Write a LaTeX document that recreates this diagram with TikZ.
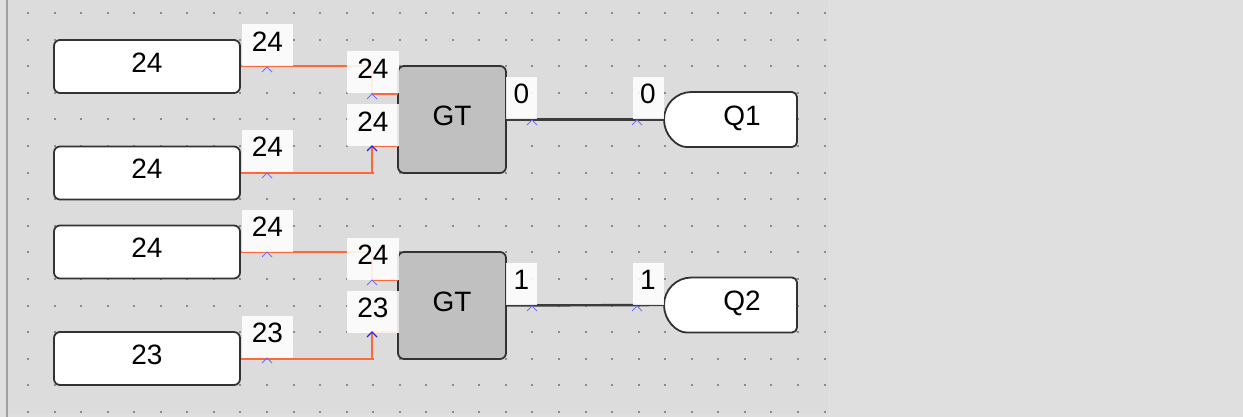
\documentclass[tikz,border=0pt]{standalone}
\usepackage{fontspec}
\setmainfont{Liberation Sans}
\usetikzlibrary{calc}
\definecolor{bgc}{RGB}{220,220,220}
\definecolor{bgr}{RGB}{223,223,223}
\definecolor{dotc}{RGB}{140,140,140}
\definecolor{wireo}{RGB}{255,105,55}
\definecolor{wired}{RGB}{60,60,60}
\definecolor{edgec}{RGB}{50,50,50}
\definecolor{gtfill}{RGB}{192,192,192}
\definecolor{caretc}{RGB}{110,110,255}
\definecolor{caretd}{RGB}{40,40,230}
\definecolor{borderc}{RGB}{160,160,160}
\tikzset{
 txt/.style={font=\fontsize{28}{30}\selectfont, text=black, text depth=8pt, inner sep=0pt},
 valbox/.style={txt, draw=edgec, line width=1.8pt, fill=white, rounded corners=6pt, minimum width=186pt, minimum height=53pt},
 wlabel/.style={txt, fill=white, fill opacity=0.88, text opacity=1, minimum height=42pt},
 gtbox/.style={txt, draw=edgec, line width=1.8pt, fill=gtfill, rounded corners=6pt, minimum width=108pt, minimum height=107pt},
 qframe/.style={minimum width=133pt, minimum height=55pt, inner sep=0pt, outer sep=0pt},
 qline/.style={draw=edgec, line width=1.8pt, fill=white},
 owire/.style={draw=wireo, line width=2pt},
 dwire/.style={draw=wired, line width=2.4pt},
 pincaret/.pic={\draw[draw=caretc, line width=1pt] (-5,5) -- (0,0) -- (5,5);},
 pincaretd/.pic={\draw[draw=caretd, line width=1.2pt] (-5,5) -- (0,0) -- (5,5);},
}
\begin{document}
\begin{tikzpicture}[x=1pt,y=-1pt]
\useasboundingbox (0,0) rectangle (1243,417);
\fill[bgr] (0,0) rectangle (1243,417);
\fill[bgc] (8,0) rectangle (828,414);
\draw[borderc, line width=2pt] (7,0) -- (7,417);
\foreach \i in {0,...,30} \foreach \j in {0,...,15}
  \fill[dotc] ({28+26.55*\i-1},{13+26.6*\j-1}) rectangle +(2,2);

% blocks
\node[valbox] (in1) at (147,66.5) {24};
\node[valbox] (in2) at (147,173) {24};
\node[valbox] (in3) at (147,252) {24};
\node[valbox] (in4) at (147,358.5) {23};
\node[gtbox] (gt1) at (452,119.5) {GT};
\node[gtbox] (gt2) at (452,305.5) {GT};
\node[qframe] (q1) at (730.5,119.5) {};
\node[qframe] (q2) at (730.5,305) {};
\draw[qline] ([xshift=27.5pt]q1.south west) arc[start angle=270, end angle=90, radius=27.5pt]
  [rounded corners=5pt] -- (q1.north east) -- (q1.south east) -- cycle;
\draw[qline] ([xshift=27.5pt]q2.south west) arc[start angle=270, end angle=90, radius=27.5pt]
  [rounded corners=5pt] -- (q2.north east) -- (q2.south east) -- cycle;
\node[txt] (q1t) at (742,119.5) {Q1};
\node[txt] (q2t) at (742,305) {Q2};

% pin coordinates
\coordinate (g1a) at (398,94);
\coordinate (g1b) at (398,146);
\coordinate (g2a) at (398,280);
\coordinate (g2b) at (398,332);
\coordinate (k1a) at (372,94);
\coordinate (k1b) at (372,146);
\coordinate (k2a) at (372,280);
\coordinate (k2b) at (372,332);

% wires
\draw[owire] (in1.east) -| (k1a) -- (g1a);
\draw[owire] (in2.east) -| (k1b) -- (g1b);
\draw[owire] (in3.east) -| (k2a) -- (g2a);
\draw[owire] (in4.east) -| (k2b) -- (g2b);
\draw[dwire] (gt1.east) -- (q1.west);
\draw[dwire] (gt2.east) -- (q2.west);

% value labels
\node[wlabel, minimum width=51pt] (l1) at (267.5,45.5) {24};
\node[wlabel, minimum width=51pt] (l2) at (267.5,151) {24};
\node[wlabel, minimum width=51pt] (l3) at (267.5,230.5) {24};
\node[wlabel, minimum width=51pt] (l4) at (267.5,337) {23};
\node[wlabel, minimum width=52pt] (a1) at (373,72.5) {24};
\node[wlabel, minimum width=52pt] (a2) at (373,125.5) {24};
\node[wlabel, minimum width=52pt] (b1) at (373,258.5) {24};
\node[wlabel, minimum width=52pt] (b2) at (373,311.5) {23};
\node[wlabel, minimum width=31pt] (o1) at (521.5,98) {0};
\node[wlabel, minimum width=31pt] (o2) at (648,98) {0};
\node[wlabel, minimum width=31pt] (o3) at (521.5,284) {1};
\node[wlabel, minimum width=31pt] (o4) at (648,284) {1};

% carets
\pic at (267,67) {pincaret};
\pic at (267,173) {pincaret};
\pic at (267,252) {pincaret};
\pic at (267,358) {pincaret};
\pic at (372,94) {pincaret};
\pic at (372,146) {pincaretd};
\pic at (372,280) {pincaret};
\pic at (372,332) {pincaretd};
\pic at (532,120) {pincaret};
\pic at (637,120) {pincaret};
\pic at (532,306) {pincaret};
\pic at (637,306) {pincaret};
\end{tikzpicture}
\end{document}
